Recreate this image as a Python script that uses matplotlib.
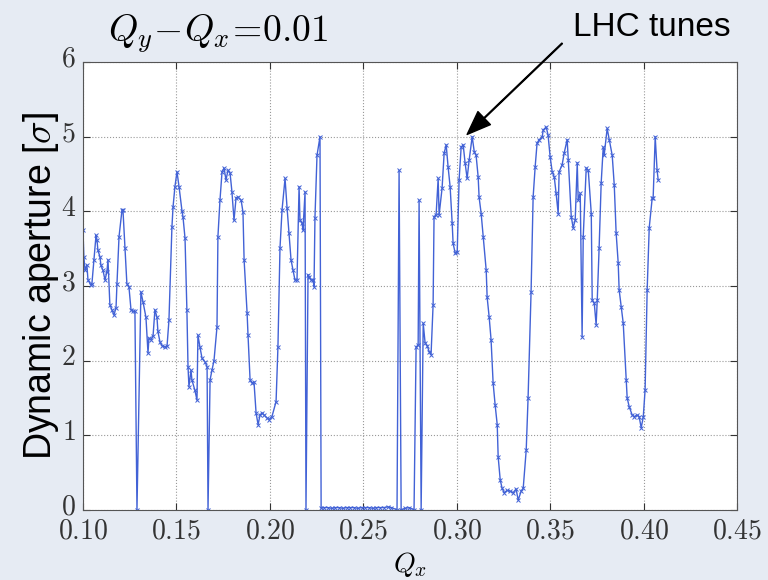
import numpy as np
import matplotlib
matplotlib.use('Agg')
import matplotlib.pyplot as plt
import matplotlib.transforms as mtransforms

plt.rcParams['mathtext.fontset'] = 'cm'
plt.rcParams['font.family'] = ['Liberation Sans', 'DejaVu Sans']

# tune scan, Qy - Qx = 0.01
qx = [0.1000, 0.1005, 0.1011, 0.1021, 0.1027, 0.1043, 0.1048, 0.1059, 0.1070, 0.1075,
      0.1080, 0.1091, 0.1096, 0.1107, 0.1118, 0.1128, 0.1134, 0.1144, 0.1155, 0.1166,
      0.1177, 0.1182, 0.1193, 0.1209, 0.1214, 0.1225, 0.1235, 0.1246, 0.1257, 0.1268,
      0.1278, 0.1289, 0.1310, 0.1321, 0.1337, 0.1348, 0.1353, 0.1364, 0.1375, 0.1385,
      0.1396, 0.1401, 0.1412, 0.1423, 0.1439, 0.1450, 0.1460, 0.1476, 0.1482, 0.1492,
      0.1503, 0.1514, 0.1530, 0.1535, 0.1546, 0.1556, 0.1562, 0.1567, 0.1578, 0.1583,
      0.1599, 0.1610, 0.1615, 0.1626, 0.1637, 0.1653, 0.1664, 0.1669, 0.1680, 0.1690,
      0.1701, 0.1717, 0.1722, 0.1733, 0.1744, 0.1755, 0.1765, 0.1776, 0.1787, 0.1797,
      0.1808, 0.1819, 0.1829, 0.1846, 0.1856, 0.1862, 0.1878, 0.1883, 0.1894, 0.1904,
      0.1915, 0.1926, 0.1937, 0.1947, 0.1958, 0.1969, 0.1985, 0.1995, 0.2011, 0.2033,
      0.2043, 0.2054, 0.2065, 0.2081, 0.2092, 0.2102, 0.2113, 0.2124, 0.2134, 0.2145,
      0.2156, 0.2161, 0.2172, 0.2177, 0.2188, 0.2193, 0.2204, 0.2209, 0.2220, 0.2231,
      0.2236, 0.2241, 0.2252, 0.2268, 0.2274, 0.2290, 0.2310, 0.2330, 0.2350, 0.2370,
      0.2390, 0.2410, 0.2430, 0.2450, 0.2470, 0.2490, 0.2510, 0.2530, 0.2550, 0.2570,
      0.2590, 0.2610, 0.2630, 0.2650, 0.2680, 0.2691, 0.2702, 0.2723, 0.2745, 0.2771,
      0.2782, 0.2793, 0.2798, 0.2809, 0.2820, 0.2830, 0.2841, 0.2852, 0.2862, 0.2873,
      0.2878, 0.2889, 0.2900, 0.2905, 0.2921, 0.2932, 0.2943, 0.2953, 0.2964, 0.2975,
      0.2980, 0.2991, 0.3002, 0.3012, 0.3023, 0.3034, 0.3044, 0.3055, 0.3066, 0.3082,
      0.3093, 0.3103, 0.3114, 0.3119, 0.3130, 0.3141, 0.3157, 0.3162, 0.3173, 0.3183,
      0.3194, 0.3205, 0.3216, 0.3221, 0.3232, 0.3242, 0.3253, 0.3269, 0.3285, 0.3301,
      0.3317, 0.3328, 0.3344, 0.3355, 0.3371, 0.3381, 0.3397, 0.3408, 0.3419, 0.3429,
      0.3440, 0.3456, 0.3462, 0.3478, 0.3488, 0.3499, 0.3510, 0.3521, 0.3531, 0.3542,
      0.3547, 0.3563, 0.3574, 0.3590, 0.3596, 0.3612, 0.3622, 0.3633, 0.3644, 0.3649,
      0.3660, 0.3670, 0.3676, 0.3692, 0.3703, 0.3719, 0.3724, 0.3735, 0.3745, 0.3751,
      0.3761, 0.3772, 0.3783, 0.3788, 0.3804, 0.3815, 0.3831, 0.3842, 0.3852, 0.3863,
      0.3868, 0.3879, 0.3890, 0.3906, 0.3911, 0.3922, 0.3938, 0.3949, 0.3965, 0.3975,
      0.3986, 0.3997, 0.4007, 0.4018, 0.4029, 0.4045, 0.4050, 0.4061, 0.4071, 0.4077]

da = [3.75, 3.39, 3.21, 3.28, 3.08, 3.01, 3.03, 3.35, 3.68, 3.62,
      3.48, 3.39, 3.28, 3.21, 3.08, 3.19, 3.35, 2.75, 2.68, 2.61,
      2.71, 3.03, 3.66, 4.02, 4.02, 3.51, 3.03, 2.99, 2.68, 2.66,
      2.66, 0.00, 2.92, 2.79, 2.58, 2.10, 2.30, 2.28, 2.33, 2.68,
      2.58, 2.39, 2.25, 2.20, 2.18, 2.20, 2.54, 3.79, 4.06, 4.33,
      4.53, 4.33, 4.00, 3.93, 3.64, 2.68, 1.92, 1.65, 1.87, 1.74,
      1.60, 1.47, 2.34, 2.18, 2.03, 1.98, 1.92, 0.00, 1.74, 1.87,
      2.00, 2.45, 3.66, 4.15, 4.53, 4.58, 4.42, 4.55, 4.51, 4.26,
      3.88, 4.18, 4.19, 4.15, 3.99, 3.35, 2.64, 2.34, 1.74, 1.70,
      1.71, 1.30, 1.14, 1.27, 1.30, 1.27, 1.23, 1.21, 1.25, 1.45,
      2.18, 3.51, 4.02, 4.44, 4.04, 3.71, 3.35, 3.21, 3.08, 3.08,
      4.33, 3.88, 3.84, 3.75, 4.26, 0.00, 3.15, 3.12, 3.08, 3.08,
      2.99, 3.91, 4.75, 5.00, 0.02, 0.03, 0.03, 0.02, 0.03, 0.03,
      0.02, 0.03, 0.03, 0.03, 0.02, 0.03, 0.03, 0.03, 0.02, 0.03,
      0.03, 0.03, 0.04, 0.03, 0.00, 4.55, 0.00, 0.02, 0.03, 0.00,
      2.18, 2.21, 4.15, 0.00, 2.50, 2.24, 2.20, 2.12, 2.08, 2.75,
      3.93, 3.95, 4.44, 3.95, 4.31, 4.78, 4.89, 4.60, 4.33, 3.84,
      3.57, 3.44, 3.46, 4.42, 4.86, 4.89, 4.65, 4.44, 4.69, 5.00,
      4.80, 4.75, 4.46, 4.19, 3.97, 3.66, 3.21, 2.85, 2.58, 2.28,
      1.70, 1.40, 1.14, 0.71, 0.40, 0.29, 0.23, 0.26, 0.25, 0.23,
      0.28, 0.13, 0.25, 0.29, 0.80, 1.50, 2.92, 4.19, 4.60, 4.91,
      4.96, 4.99, 5.09, 5.13, 5.02, 4.73, 4.53, 4.46, 4.24, 3.97,
      4.53, 4.62, 4.78, 4.96, 4.69, 3.93, 3.78, 3.88, 4.65, 4.15,
      4.24, 2.32, 3.66, 4.58, 4.55, 3.97, 2.81, 2.77, 2.48, 2.81,
      3.51, 4.38, 4.86, 4.75, 5.11, 4.96, 4.75, 4.35, 3.71, 3.31,
      2.95, 2.72, 2.50, 1.74, 1.50, 1.38, 1.27, 1.25, 1.27, 1.25,
      1.10, 1.24, 1.61, 2.95, 3.78, 4.18, 4.18, 5.00, 4.55, 4.42]

xticks = [0.10, 0.15, 0.20, 0.25, 0.30, 0.35, 0.40, 0.45]
yticks = [0, 1, 2, 3, 4, 5, 6]

bg = '#e6ebf3'
fig = plt.figure(figsize=(7.68, 5.80), dpi=100, facecolor=bg)
ax = fig.add_axes([0.108, 0.121, 0.852, 0.772])

ax.plot(qx, da, '-x', color='#4262d6', linewidth=1.0, markersize=3.5, markeredgewidth=0.7)

ax.set_xlim(0.10, 0.45)
ax.set_ylim(0, 6)
ax.set_xticks(xticks)
ax.set_yticks(yticks)
ax.set_xticklabels([r'$%.2f$' % v for v in xticks], fontsize=20)
ax.set_yticklabels([r'$%d$' % v for v in yticks], fontsize=20)
ax.tick_params(direction='in', length=5, top=True, right=True, colors='#333333')
ax.tick_params(axis='x', pad=6)
ax.tick_params(axis='y', pad=5)
ax.grid(True, linestyle=':', color='#999999', linewidth=0.8)
for s in ax.spines.values():
    s.set_color('#555555')

# y tick labels sit a little high in the original
shift = mtransforms.ScaledTranslation(0, 4 / 72, fig.dpi_scale_trans)
for lab in ax.get_yticklabels():
    lab.set_transform(lab.get_transform() + shift)

ax.set_xlabel(r'$Q_x$', fontsize=20, labelpad=4)
ax.set_ylabel(r'Dynamic aperture [$\sigma$]', fontsize=27, labelpad=0)

fig.text(0.14, 0.942, r'$Q_y\!-\!Q_x\!=\!0.01$', fontsize=27, ha='left', va='center')

# label and arrow pointing at the nominal tunes
fig.text(0.746, 0.952, 'LHC tunes', fontsize=24, ha='left', va='center')
ax.annotate('', xy=(0.3055, 5.03), xytext=(0.3563, 6.25), annotation_clip=False,
            arrowprops=dict(facecolor='black', edgecolor='black', width=0.6,
                            headwidth=13, headlength=17, shrink=0.0))

plt.savefig('out.png', dpi=100, facecolor=bg)
